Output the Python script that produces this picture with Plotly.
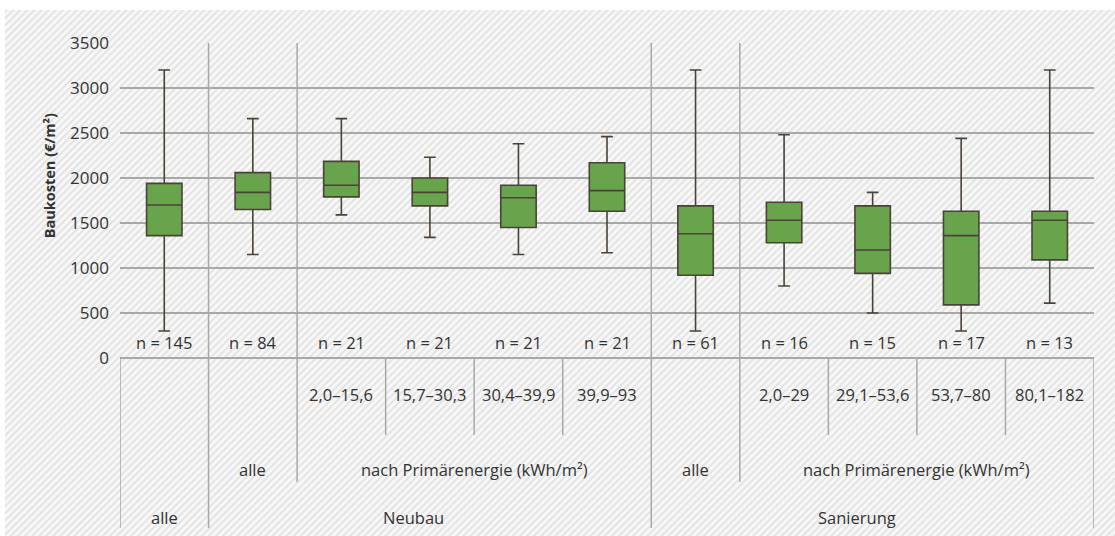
import base64
import plotly.graph_objects as go

# ---------------- data ----------------
categories = ["alle", "Neubau alle", "2,0–15,6", "15,7–30,3", "30,4–39,9", "39,9–93",
              "Sanierung alle", "2,0–29", "29,1–53,6", "53,7–80", "80,1–182"]
n_labels = ["n = 145", "n = 84", "n = 21", "n = 21", "n = 21", "n = 21",
            "n = 61", "n = 16", "n = 15", "n = 17", "n = 13"]
upper = [3200, 2660, 2660, 2230, 2380, 2460, 3200, 2480, 1840, 2440, 3200]
q3 = [1940, 2060, 2185, 2000, 1920, 2170, 1690, 1730, 1690, 1630, 1630]
median = [1700, 1840, 1920, 1840, 1780, 1860, 1380, 1530, 1200, 1360, 1530]
q1 = [1360, 1650, 1790, 1690, 1450, 1630, 920, 1280, 940, 590, 1090]
lower = [300, 1150, 1590, 1340, 1150, 1170, 300, 800, 500, 300, 610]
yticks = [0, 500, 1000, 1500, 2000, 2500, 3000, 3500]

range_labels = ["2,0–15,6", "15,7–30,3", "30,4–39,9", "39,9–93",
                "2,0–29", "29,1–53,6", "53,7–80", "80,1–182"]
range_pos = [2, 3, 4, 5, 7, 8, 9, 10]
mid_labels = ["alle", "nach Primärenergie (kWh/m²)", "alle", "nach Primärenergie (kWh/m²)"]
mid_pos = [1, 3.5, 6, 8.5]
top_labels = ["alle", "Neubau", "Sanierung"]
top_pos = [0, 2.82, 7.82]

xpos = list(range(len(categories)))

W, H = 1115, 536
L, R, T, B = 120, 21, 43, 6
Y_MAX = 3500
Y_MIN = -(530 - 358) * 500 / 45  # bottom of table area

FONT = "Open Sans"
TXT = "#333333"
GRID = "#a8a8a8"

fig = go.Figure()
fig.add_trace(go.Box(
    x=xpos, q1=q1, median=median, q3=q3, lowerfence=lower, upperfence=upper,
    fillcolor="#68a44c", line=dict(color="#4a4238", width=1.6),
    width=0.4, whiskerwidth=0.33, boxpoints=False, showlegend=False,
))

# hatched background as an svg image
pw, ph = W - 5, H - 10
svg = f'''<svg xmlns="http://www.w3.org/2000/svg" width="{pw}" height="{ph}" viewBox="0 0 {pw} {ph}">
<defs><pattern id="h" width="5" height="5" patternUnits="userSpaceOnUse" patternTransform="rotate(45)">
<rect width="5" height="5" fill="#f7f7f7"/>
<line x1="1" y1="0" x2="1" y2="5" stroke="#e0e0e0" stroke-width="1.6"/></pattern></defs>
<rect width="{pw}" height="{ph}" fill="url(#h)"/></svg>'''
src = "data:image/svg+xml;base64," + base64.b64encode(svg.encode()).decode()
pwidth = W - L - R
pheight = H - T - B
fig.add_layout_image(dict(
    source=src, xref="paper", yref="paper",
    x=(5 - L) / pwidth, y=(H - B - 10) / pheight,
    sizex=pw / pwidth, sizey=ph / pheight,
    xanchor="left", yanchor="top", sizing="stretch", layer="below",
))

def ypx(p):
    return -(p - 358) * 500 / 45

line_style = dict(color=GRID, width=1.5)
# vertical separators
full = [(0.5, Y_MAX, ypx(528)), (1.5, Y_MAX, ypx(482)), (5.5, Y_MAX, ypx(528)),
        (6.5, Y_MAX, ypx(482)), (-0.5, 0, ypx(528)), (10.5, 0, ypx(528))]
for xv, y0, y1 in full:
    fig.add_shape(type="line", x0=xv, x1=xv, y0=y0, y1=y1, xref="x", yref="y", line=line_style)
for xv in [2.5, 3.5, 4.5, 7.5, 8.5, 9.5]:
    fig.add_shape(type="line", x0=xv, x1=xv, y0=0, y1=ypx(435), xref="x", yref="y", line=line_style)

tf = dict(family=FONT, size=16.5, color=TXT)
for xv, t in zip(xpos, n_labels):
    fig.add_annotation(x=xv, y=ypx(342), text=t, showarrow=False, font=tf, xref="x", yref="y")
for xv, t in zip(range_pos, range_labels):
    fig.add_annotation(x=xv, y=ypx(394), text=t, showarrow=False, font=tf, xref="x", yref="y")
for xv, t in zip(mid_pos, mid_labels):
    fig.add_annotation(x=xv, y=ypx(469), text=t, showarrow=False, font=tf, xref="x", yref="y")
for xv, t in zip(top_pos, top_labels):
    fig.add_annotation(x=xv, y=ypx(517), text=t, showarrow=False, font=tf, xref="x", yref="y")

fig.add_annotation(x=(49 - L) / pwidth, xref="paper", xanchor="center", y=2020, yref="y",
                   yanchor="middle",
                   text="<b>Baukosten (€/m²)</b>", textangle=-90, showarrow=False,
                   font=dict(family=FONT, size=14.5, color=TXT))

fig.update_layout(
    width=W, height=H, margin=dict(l=L, r=R, t=T, b=B, autoexpand=False),
    paper_bgcolor="white", plot_bgcolor="rgba(0,0,0,0)",
    xaxis=dict(range=[-0.5, 10.5], showgrid=False, zeroline=False, showticklabels=False,
               showline=False, fixedrange=True),
    yaxis=dict(range=[Y_MIN, Y_MAX], tickvals=yticks, ticktext=[str(v) for v in yticks],
               showgrid=True, gridcolor=GRID, gridwidth=1.5, zeroline=False, showline=False,
               ticks="", ticklabelstandoff=10, tickfont=dict(family=FONT, size=17, color=TXT)),
    font=dict(family=FONT),
)

fig.write_html("out.html", config={"displayModeBar": False},
               post_script="document.body.style.margin='0';document.body.style.overflow='hidden';")
